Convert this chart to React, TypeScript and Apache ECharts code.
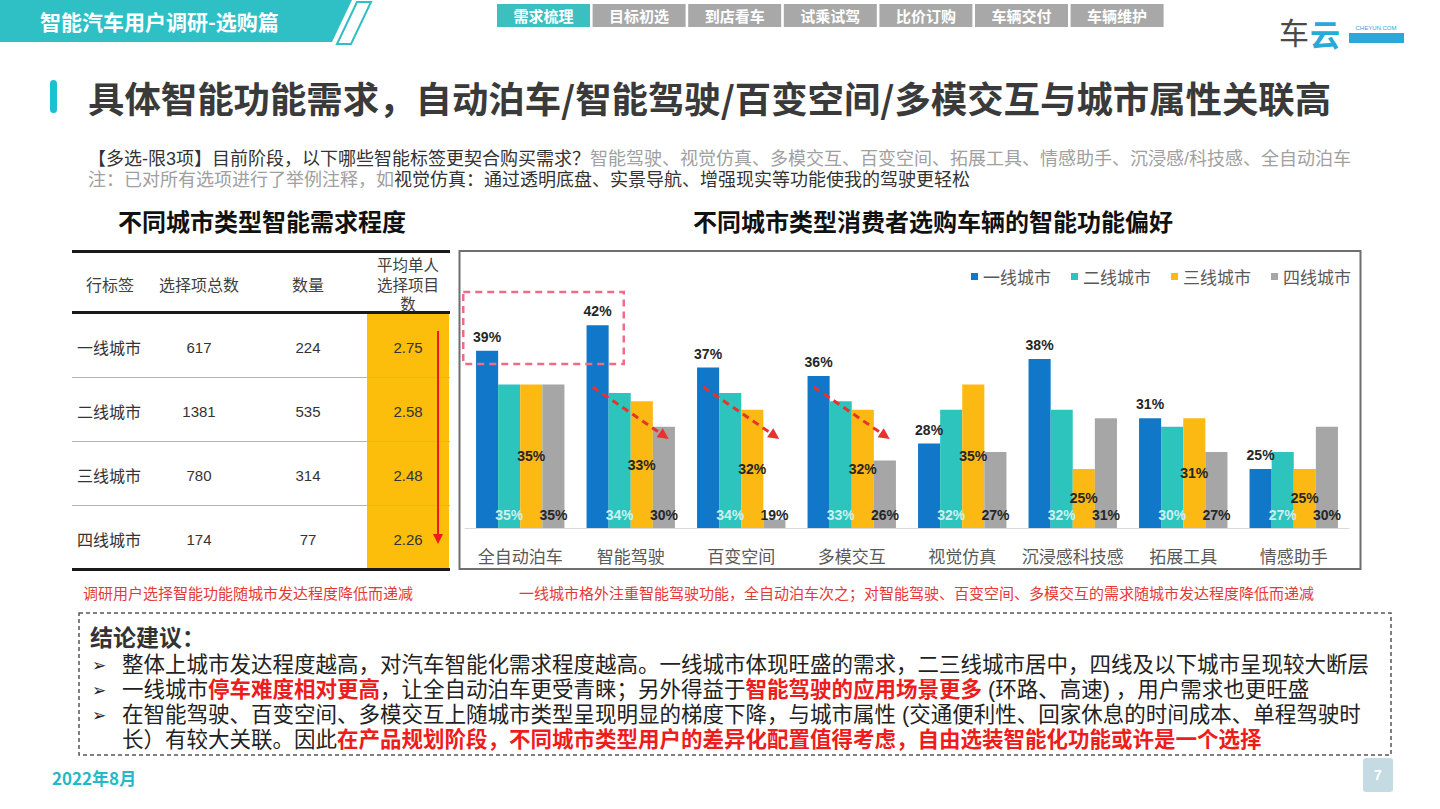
import React, { useEffect, useRef } from "react";
import * as echarts from "echarts";

// ---------- data ----------
const categories = ["全自动泊车", "智能驾驶", "百变空间", "多模交互", "视觉仿真", "沉浸感科技感", "拓展工具", "情感助手"];
const seriesNames = ["一线城市", "二线城市", "三线城市", "四线城市"];
const tier1 = [39, 42, 37, 36, 28, 38, 31, 25];
const tier2 = [35, 34, 34, 33, 32, 32, 30, 27];
const tier3 = [35, 33, 32, 32, 35, 25, 31, 25];
const tier4 = [35, 30, 19, 26, 27, 31, 27, 30];

const tableHeaders = ["行标签", "选择项总数", "数量"];
const tableHeaderLast = ["平均单人", "选择项目", "数"];
const tableCities = ["一线城市", "二线城市", "三线城市", "四线城市"];
const totalSelections = [617, 1381, 780, 174];
const respondentCounts = [224, 535, 314, 77];
const avgSelections = ["2.75", "2.58", "2.48", "2.26"];

const navTabs = ["需求梳理", "目标初选", "到店看车", "试乘试驾", "比价订购", "车辆交付", "车辆维护"];
const arrowCategories = [1, 2, 3];

const CJK = '"Noto Sans CJK SC", "Noto Sans", sans-serif';
const TIGHT = '"Liberation Sans", "Noto Sans CJK SC", sans-serif';
const NUM = '"Liberation Sans", Arial, sans-serif';
const TEAL = "#2fc0c6";

function txt(text: string, x: number, y: number, o: any = {}) {
  const align = o.align || "left";
  const va = o.va || "middle";
  return {
    type: "text",
    x,
    y,
    z: o.z ?? 10,
    silent: true,
    style: {
      text,
      fill: o.fill || "#333",
      fontSize: o.size || 16,
      fontWeight: o.weight || "normal",
      fontFamily: o.family || CJK,
      align,
      verticalAlign: va,
      textAlign: align,
      textVerticalAlign: va,
      lineHeight: o.lh,
      rich: o.rich,
    },
  };
}

function rect(x: number, y: number, w: number, h: number, style: any, z = 5, r: any = 0) {
  return { type: "rect", z, silent: true, shape: { x, y, width: w, height: h, r }, style };
}

export default function App() {
  const ref = useRef<HTMLDivElement>(null);
  useEffect(() => {
    const chart = echarts.init(ref.current!, undefined, { renderer: "svg" });
    const colors = ["#1177c9", "#2cc4bc", "#fcb813", "#a6a6a6"];
    const seriesData = [tier1, tier2, tier3, tier4];
    const labelCfg: any[] = [
      { position: "top", distance: 7, color: "#262626" },
      { position: "insideBottom", distance: 6, color: "#cdeff0" },
      { position: "inside", color: "#262626" },
      { position: "insideBottom", distance: 6, color: "#262626" },
    ];

    chart.setOption({
      animation: false,
      backgroundColor: "#ffffff",
      color: colors,
      legend: {
        data: seriesNames,
        right: 84,
        top: 263,
        itemWidth: 7,
        itemHeight: 7,
        itemGap: 20,
        icon: "rect",
        textStyle: { fontSize: 17, color: "#595959", fontFamily: CJK },
      },
      grid: { left: 465, right: 91, top: 300, bottom: 281 },
      xAxis: {
        type: "category",
        data: categories,
        axisLine: { lineStyle: { color: "#d9d9d9", width: 1 } },
        axisTick: { show: false },
        axisLabel: { fontSize: 17, color: "#595959", margin: 19, fontFamily: CJK, interval: 0 },
      },
      yAxis: { type: "value", min: 18, max: 45, show: false },
      series: seriesNames.map((name, i) => ({
        type: "bar",
        name,
        data: seriesData[i],
        barGap: "0%",
        barCategoryGap: "20%",
        itemStyle: { color: colors[i] },
        label: {
          show: true,
          formatter: "{c}%",
          fontSize: 14,
          fontWeight: "bold",
          fontFamily: NUM,
          ...labelCfg[i],
        },
      })),
    });

    const cx = (i: number) => chart.convertToPixel({ xAxisIndex: 0 }, i) as number;

    const g: any[] = [];
    // ---- header banner ----
    g.push({ type: "polygon", z: 1, silent: true, shape: { points: [[0, 0], [352, 0], [332, 42], [0, 42]] }, style: { fill: TEAL } });
    g.push({ type: "polygon", z: 2, silent: true, shape: { points: [[357, 2], [371, 2], [351, 44], [337, 44]] }, style: { fill: "#ffffff", stroke: TEAL, lineWidth: 2 } });
    g.push(txt("智能汽车用户调研-选购篇", 40, 21, { fill: "#ffffff", size: 21, weight: "bold" }));
    navTabs.forEach((t, i) => {
      const x = 497 + i * 95.6;
      g.push(rect(x, 4, 93, 23, { fill: i === 0 ? "#3bbfbf" : "#a8a8a8" }, 3));
      g.push(txt(t, x + 46.5, 15.5, { fill: "#ffffff", size: 15, weight: "bold", align: "center" }));
    });
    // logo
    g.push(txt("车", 1279, 31, { fill: "#4a4a4a", size: 30 }));
    g.push(txt("云", 1310, 33, { fill: "#2aa8d8", size: 30, weight: "bold" }));
    g.push(txt("CHEYUN.COM", 1376, 28, { fill: "#2aa8d8", size: 6, family: NUM, align: "center" }));
    g.push(rect(1349, 33, 55, 10, { fill: "#2aa8d8" }, 3));

    // ---- title ----
    g.push(rect(50, 80, 7, 33, { fill: "#1bc1cf" }, 3, 3.5));
    g.push(txt("具体智能功能需求，自动泊车/智能驾驶/百变空间/多模交互与城市属性关联高", 88, 97, { fill: "#3a3a3a", size: 36.4, weight: "bold" }));
    const richSub = {
      d: { fill: "#333333", fontSize: 18, fontFamily: TIGHT, lineHeight: 20 },
      g: { fill: "#a0a0a0", fontSize: 18, fontFamily: TIGHT, lineHeight: 20 },
    };
    const sub1: any = txt("", 88, 159, { size: 18, lh: 20, family: TIGHT, rich: richSub });
    sub1.style.text = "{d|【多选-限3项】目前阶段，以下哪些智能标签更契合购买需求？}{g|智能驾驶、视觉仿真、多模交互、百变空间、拓展工具、情感助手、沉浸感/科技感、全自动泊车}";
    g.push(sub1);
    const sub2: any = txt("", 88, 180, { size: 18, lh: 20, family: TIGHT, rich: richSub });
    sub2.style.text = "{g|注：已对所有选项进行了举例注释，如}{d|视觉仿真：通过透明底盘、实景导航、增强现实等功能使我的驾驶更轻松}";
    g.push(sub2);

    g.push(txt("不同城市类型智能需求程度", 118, 220, { fill: "#111111", size: 24, weight: "bold" }));
    g.push(txt("不同城市类型消费者选购车辆的智能功能偏好", 693, 220, { fill: "#111111", size: 24, weight: "bold" }));

    // ---- table ----
    g.push(rect(367, 313, 82, 256, { fill: "#fcbd0b" }, 2));
    g.push(rect(72, 250, 378, 3, { fill: "#1a1a1a" }, 4));
    g.push(rect(72, 311, 378, 3, { fill: "#1a1a1a" }, 4));
    [377, 441, 505].forEach((y) => g.push(rect(72, y, 378, 1, { fill: "#b5b5b5" }, 4)));
    g.push(rect(72, 568, 378, 3, { fill: "#1a1a1a" }, 4));
    const colX = [110, 199, 308, 408];
    tableHeaders.forEach((h, i) => {
      g.push(txt(h, colX[i], 284, { fill: "#404040", size: 16, align: "center" }));
    });
    const hdrY = [265, 285, 304];
    tableHeaderLast.forEach((h, i) => {
      g.push(txt(h, colX[3], hdrY[i], { fill: "#404040", size: 15.5, align: "center", lh: 18, family: TIGHT }));
    });
    const rowY = [347, 411, 475, 539];
    tableCities.forEach((c, r) => {
      g.push(txt(c, 77, rowY[r], { fill: "#333333", size: 16 }));
      g.push(txt(String(totalSelections[r]), colX[1], rowY[r], { fill: "#333333", size: 15, family: NUM, align: "center" }));
      g.push(txt(String(respondentCounts[r]), colX[2], rowY[r], { fill: "#333333", size: 15, family: NUM, align: "center" }));
      g.push(txt(avgSelections[r], colX[3], rowY[r], { fill: "#333333", size: 15, family: NUM, align: "center" }));
    });
    g.push({ type: "line", z: 6, silent: true, shape: { x1: 438, y1: 331, x2: 438, y2: 536 }, style: { stroke: "#f01818", lineWidth: 2 } });
    g.push({ type: "polygon", z: 6, silent: true, shape: { points: [[433, 534], [443, 534], [438, 544]] }, style: { fill: "#f01818" } });

    // ---- chart box ----
    g.push(rect(459.5, 251, 901, 318, { fill: "none", stroke: "#6f6f6f", lineWidth: 2 }, 20));

    // dashed highlight box
    const c0 = cx(0);
    const c1 = cx(1);
    g.push(rect(c0 - 57, 292, c1 - 7 - (c0 - 57), 72, { fill: "none", stroke: "#ef6b86", lineWidth: 2.5, lineDash: [7, 5] }, 30));

    // dashed trend arrows
    arrowCategories.forEach((i) => {
      const c = cx(i);
      const x1 = c - 38, y1 = 387, tipX = c + 38, tipY = 439;
      const dx = tipX - x1, dy = tipY - y1;
      const len = Math.sqrt(dx * dx + dy * dy);
      const ux = dx / len, uy = dy / len;
      const bx = tipX - 11 * ux, by = tipY - 11 * uy;
      g.push({ type: "line", z: 30, silent: true, shape: { x1, y1, x2: bx, y2: by }, style: { stroke: "#e8322e", lineWidth: 3, lineDash: [7, 5] } });
      g.push({
        type: "polygon",
        z: 30,
        silent: true,
        shape: { points: [[tipX, tipY], [bx - 5.5 * uy, by + 5.5 * ux], [bx + 5.5 * uy, by - 5.5 * ux]] },
        style: { fill: "#e8322e" },
      });
    });

    // ---- notes ----
    g.push(txt("调研用户选择智能功能随城市发达程度降低而递减", 83, 592, { fill: "#e53935", size: 15 }));
    g.push(txt("一线城市格外注重智能驾驶功能，全自动泊车次之；对智能驾驶、百变空间、多模交互的需求随城市发达程度降低而递减", 519, 592, { fill: "#e53935", size: 15 }));

    // ---- conclusion box ----
    g.push(rect(79, 613, 1312, 142, { fill: "none", stroke: "#555555", lineWidth: 1.5, lineDash: [4, 3] }, 5));
    g.push(txt("结论建议：", 90, 636, { fill: "#333333", size: 23, weight: "bold" }));
    const richC = {
      n: { fill: "#222222", fontSize: 21.5, fontFamily: TIGHT, lineHeight: 24 },
      r: { fill: "#ee1c1c", fontSize: 21.5, fontFamily: TIGHT, fontWeight: "bold", lineHeight: 24 },
    };
    const lines = [
      "{n|整体上城市发达程度越高，对汽车智能化需求程度越高。一线城市体现旺盛的需求，二三线城市居中，四线及以下城市呈现较大断层}",
      "{n|一线城市}{r|停车难度相对更高}{n|，让全自动泊车更受青睐；另外得益于}{r|智能驾驶的应用场景更多}{n| (环路、高速) ，用户需求也更旺盛}",
      "{n|在智能驾驶、百变空间、多模交互上随城市类型呈现明显的梯度下降，与城市属性 (交通便利性、回家休息的时间成本、单程驾驶时}",
      "{n|长）有较大关联。因此}{r|在产品规划阶段，不同城市类型用户的差异化配置值得考虑，自由选装智能化功能或许是一个选择}",
    ];
    const lineY = [665, 690, 715, 740];
    lines.forEach((l, i) => {
      if (i < 3) g.push(txt("➢", 92, lineY[i], { fill: "#222222", size: 17, family: '"DejaVu Sans", sans-serif' }));
      const t: any = txt("", 122, lineY[i], { size: 21.5, lh: 24, family: TIGHT, rich: richC });
      t.style.text = l;
      g.push(t);
    });

    // ---- footer ----
    g.push(txt("2022年8月", 52, 777, { fill: "#25b8c8", size: 17, weight: "bold" }));
    g.push(rect(1363, 758, 30, 34, { fill: "#c4dbe3" }, 5, 3));
    g.push(txt("7", 1378, 775, { fill: "#ffffff", size: 14, weight: "bold", family: NUM, align: "center" }));

    chart.setOption({ graphic: { elements: g } });

    return () => chart.dispose();
  }, []);

  return (
    <div
      ref={ref}
      style={{ position: "absolute", left: 0, top: 0, width: 1440, height: 809, background: "#ffffff" }}
    />
  );
}
